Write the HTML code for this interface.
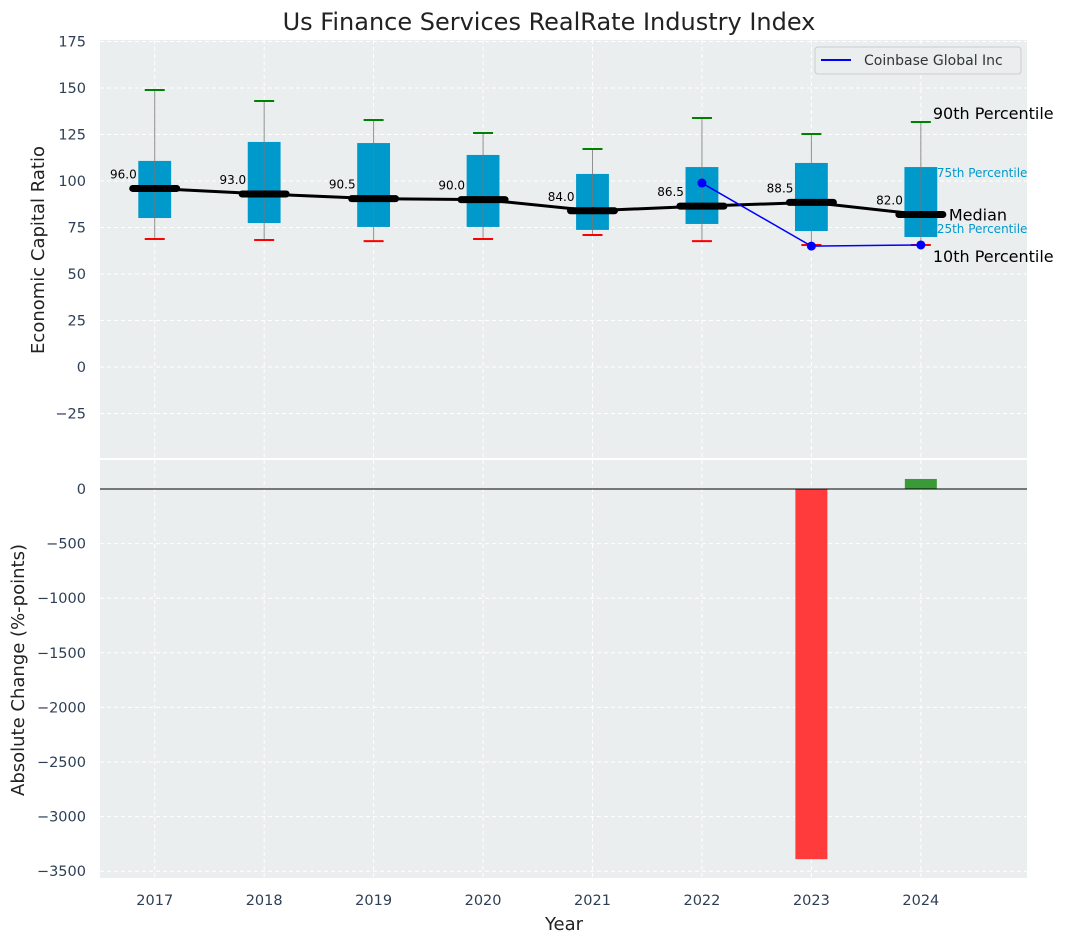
<!DOCTYPE html>
<html><head><meta charset="utf-8"><style>
body{margin:0;background:#fff;}
svg text{font-family:"DejaVu Sans","Liberation Sans",sans-serif;}
</style></head><body>
<svg id="chart" width="1067" height="942" xmlns="http://www.w3.org/2000/svg"></svg>
<script>
const years=[2017,2018,2019,2020,2021,2022,2023,2024];
const p90=[148.9,143,132.8,125.8,117.2,133.9,125.3,131.7];
const p75=[110.8,121,120.4,114,103.8,107.5,109.7,107.5];
const medians=[96.0,93.0,90.5,90.0,84.0,86.5,88.5,82.0];
const p25=[80.1,77.4,75.3,75.3,73.7,76.9,73.1,69.9];
const p10=[68.8,68.3,67.7,68.8,71,67.7,65.6,65.6];
const coinYears=[2022,2023,2024];
const coinVals=[98.9,65,65.6];
const changeYears=[2023,2024];
const changeVals=[-3390,92];
const topTicks=[-25,0,25,50,75,100,125,150,175];
const botTicks=[-3500,-3000,-2500,-2000,-1500,-1000,-500,0];

const NS="http://www.w3.org/2000/svg";
const svg=document.getElementById('chart');
function el(tag,attrs,parent){const e=document.createElementNS(NS,tag);for(const k in attrs)e.setAttribute(k,attrs[k]);(parent||svg).appendChild(e);return e;}
const L=100,R=1027;
const x=v=>L+(v-2016.5)/(2024.97-2016.5)*(R-L);
const T0=40,T1=458,yT=v=>367-v*46.5/25;
const B0=460,B1=878,yB=v=>489-v*54.6/500;

let e=el('rect',{x:L,y:T0,width:R-L,height:T1-T0,fill:'#eaeeef'});

e=el('rect',{x:L,y:B0,width:R-L,height:B1-B0,fill:'#eaeeef'});


years.forEach(yr=>{
  el('line',{x1:x(yr),x2:x(yr),y1:T0,y2:T1,stroke:'#fff','stroke-dasharray':'4,3'});
  el('line',{x1:x(yr),x2:x(yr),y1:B0,y2:B1,stroke:'#fff','stroke-dasharray':'4,3'});
  const t=el('text',{x:x(yr),y:905,'text-anchor':'middle','font-size':14.5,fill:'#2e3f55'});t.textContent=yr;
  
});
topTicks.forEach(v=>{
  el('line',{x1:L,x2:R,y1:yT(v),y2:yT(v),stroke:'#fff','stroke-dasharray':'4,3'});
  const t=el('text',{x:86,y:yT(v)+5,'text-anchor':'end','font-size':14.5,fill:'#2e3f55'});t.textContent=v<0?'\u2212'+(-v):v;
  
});
botTicks.forEach(v=>{
  el('line',{x1:L,x2:R,y1:yB(v),y2:yB(v),stroke:'#fff','stroke-dasharray':'4,3'});
  const t=el('text',{x:86,y:yB(v)+5,'text-anchor':'end','font-size':14.5,fill:'#2e3f55'});t.textContent=v<0?'\u2212'+(-v):v;
  
});

const bw=x(2017.15)-x(2017);
years.forEach((yr,i)=>{
  const cx=x(yr);
  const b=el('rect',{x:cx-bw,y:yT(p75[i]),width:2*bw,height:yT(p25[i])-yT(p75[i]),fill:'#0099cc'});
  
  el('line',{x1:cx,x2:cx,y1:yT(p90[i]),y2:yT(p10[i]),stroke:'#777','stroke-width':1,opacity:0.8});
  el('line',{x1:cx-10,x2:cx+10,y1:yT(p90[i]),y2:yT(p90[i]),stroke:'green','stroke-width':2});
  el('line',{x1:cx-10,x2:cx+10,y1:yT(p10[i]),y2:yT(p10[i]),stroke:'red','stroke-width':2});
});
let d=years.map((yr,i)=>(i?'L':'M')+x(yr)+','+yT(medians[i])).join(' ');
e=el('path',{d:d,stroke:'#000','stroke-width':3,fill:'none'});

years.forEach((yr,i)=>{
  const cx=x(yr);
  el('line',{x1:cx-22,x2:cx+22,y1:yT(medians[i]),y2:yT(medians[i]),stroke:'#000','stroke-width':7,'stroke-linecap':'round'});
  const t=el('text',{x:cx-18,y:yT(medians[i])-10,'text-anchor':'end','font-size':12,fill:'#000'});t.textContent=medians[i].toFixed(1);
  
});
d=coinYears.map((yr,i)=>(i?'L':'M')+x(yr)+','+yT(coinVals[i])).join(' ');
e=el('path',{d:d,stroke:'blue','stroke-width':1.5,fill:'none'});

coinYears.forEach((yr,i)=>{const c=el('circle',{cx:x(yr),cy:yT(coinVals[i]),r:4.5,fill:'blue'});
  });

const li=years.length-1, lx=x(years[li]);
function ann(txt,yy,size,col,dx){const t=el('text',{x:lx+dx,y:yy,'font-size':size,fill:col});t.textContent=txt;
  }
ann('90th Percentile',yT(p90[li])-3,16,'#000',12);
ann('75th Percentile',yT(p75[li])+10,12,'#0099cc',16);
ann('Median',yT(medians[li])+6,16,'#000',28);
ann('25th Percentile',yT(p25[li])-4,12,'#0099cc',16);
ann('10th Percentile',yT(p10[li])+17,16,'#000',12);

changeYears.forEach((yr,i)=>{
  const v=changeVals[i];const y0=yB(0),y1=yB(v);
  const r=el('rect',{x:x(yr)-16,y:Math.min(y0,y1),width:32,height:Math.abs(y1-y0),fill:v<0?'#ff3b3b':'#3a9a3a'});
  
});
el('line',{x1:L,x2:R,y1:yB(0),y2:yB(0),stroke:'#000','stroke-width':1});

const lg=el('g',{});

el('rect',{x:815,y:47,width:206,height:27,rx:3,fill:'#eaeeef',stroke:'#ccc'},lg);
el('line',{x1:821,x2:851,y1:60,y2:60,stroke:'blue','stroke-width':2},lg);
let t=el('text',{x:864,y:65,'font-size':14,fill:'#333'},lg);t.textContent='Coinbase Global Inc';

t=el('text',{x:549,y:30,'text-anchor':'middle','font-size':24,fill:'#222'});t.textContent='Us Finance Services RealRate Industry Index';

t=el('text',{x:564,y:930,'text-anchor':'middle','font-size':18,fill:'#222'});t.textContent='Year';

t=el('text',{x:44,y:250,'text-anchor':'middle','font-size':18,fill:'#222',transform:'rotate(-90 44 250)'});t.textContent='Economic Capital Ratio';

t=el('text',{x:24,y:670,'text-anchor':'middle','font-size':18,fill:'#222',transform:'rotate(-90 24 670)'});t.textContent='Absolute Change (%-points)';

</script>
</body></html>
